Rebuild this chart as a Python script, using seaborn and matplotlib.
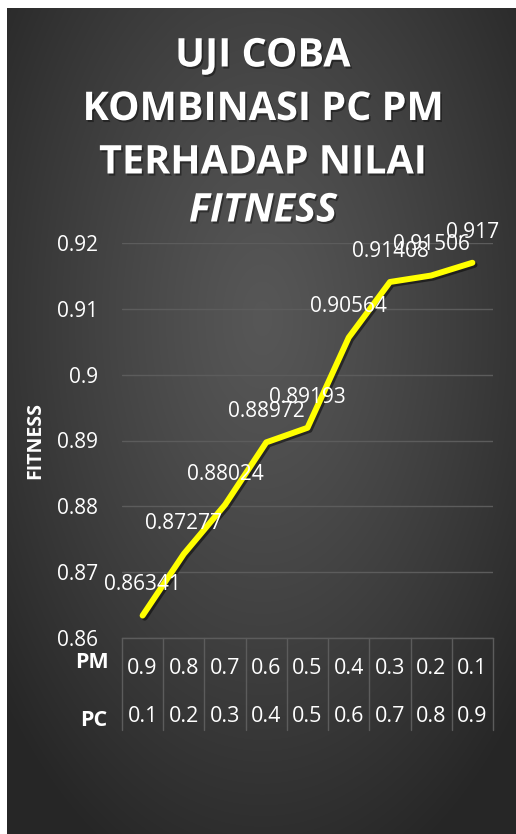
import numpy as np
import seaborn as sns
import matplotlib.pyplot as plt
import matplotlib.patheffects as pe
from matplotlib.transforms import blended_transform_factory

# data
pm_values = ["0.9", "0.8", "0.7", "0.6", "0.5", "0.4", "0.3", "0.2", "0.1"]
pc_values = ["0.1", "0.2", "0.3", "0.4", "0.5", "0.6", "0.7", "0.8", "0.9"]
fitness = [0.86341, 0.87277, 0.88024, 0.88972, 0.89193, 0.90564, 0.91408, 0.91506, 0.917]
y_ticks = [0.86, 0.87, 0.88, 0.89, 0.90, 0.91, 0.92]
title_lines = ["UJI COBA", "KOMBINASI PC PM", "TERHADAP NILAI"]

sns.set_theme(style="dark")
plt.rcParams['font.family'] = ['Open Sans', 'DejaVu Sans']

W, H = 516, 834
fig = plt.figure(figsize=(W / 100, H / 100), dpi=100, facecolor='white')

# dark radial gradient background
bg = fig.add_axes([7 / W, 0, (W - 7) / W, (H - 8) / H])
yy, xx = np.mgrid[0:H - 8, 0:W - 7]
r = np.sqrt(((xx - 255) / 340) ** 2 + ((yy - 310) / 600) ** 2)
g = 0.34 - 0.19 * np.clip(r, 0, 1) ** 1.2
bg.imshow(np.dstack([g, g, g]), aspect='auto', interpolation='bilinear')
bg.axis('off')

# main chart area
ax = fig.add_axes([122 / W, (H - 638) / H, 371 / W, 395 / H])
ax.patch.set_alpha(0)
grid_col = '#5c5c5c'

x = np.arange(len(fitness))
sns.lineplot(x=x, y=fitness, ax=ax, color='#FFFF00', linewidth=4.3,
             solid_capstyle='round', solid_joinstyle='round',
             path_effects=[pe.SimpleLineShadow(offset=(1.5, -1.5), shadow_color='black', alpha=0.5),
                           pe.Normal()])

for i, v in enumerate(fitness):
    ax.annotate(f"{v:g}", (i, v), xytext=(0, 22), textcoords='offset points',
                ha='center', va='center', color='white', fontsize=15,
                annotation_clip=False)

ax.set_xlim(-0.5, len(fitness) - 0.5)
ax.set_ylim(0.86, 0.92)
ax.set_yticks(y_ticks)
ax.set_yticklabels([f"{t:g}" for t in y_ticks], color='white', fontsize=15)
ax.set_xticks([])
ax.tick_params(axis='y', length=0, pad=17)
ax.grid(axis='y', color=grid_col, linewidth=1)
ax.grid(axis='x', visible=False)
for side in ['top', 'right', 'left']:
    ax.spines[side].set_visible(False)
ax.spines['bottom'].set_color(grid_col)
ax.spines['bottom'].set_linewidth(1)
ax.set_xlabel("")
ax.set_ylabel("")

# category table under the axis
trans = blended_transform_factory(ax.transData, ax.transAxes)
def frac(ypix):
    return (638 - ypix) / 395

for b in np.arange(-0.5, len(fitness)):
    ax.plot([b, b], [0, frac(730)], transform=trans, clip_on=False,
            color=grid_col, linewidth=1)
for i in range(len(fitness)):
    ax.text(i, frac(669), pm_values[i], transform=trans, ha='center', va='center',
            color='white', fontsize=15.5)
    ax.text(i, frac(717), pc_values[i], transform=trans, ha='center', va='center',
            color='white', fontsize=15.5)

fig.text(109 / W, 1 - 663 / H, "PM", ha='right', va='center', color='white',
         fontsize=15.5, fontweight='bold')
fig.text(107 / W, 1 - 720 / H, "PC", ha='right', va='center', color='white',
         fontsize=15.5, fontweight='bold')
fig.text(35 / W, 1 - 440 / H, "FITNESS", rotation=90, ha='center', va='center',
         color='white', fontsize=14, fontweight='bold')

# title
shadow = [pe.withSimplePatchShadow(offset=(1.2, -1.5), shadow_rgbFace='black', alpha=0.4)]
for k, line in enumerate(title_lines):
    fig.text(263 / W, 1 - (56 + 53.5 * k) / H, line, ha='center', va='center',
             color='white', fontsize=28.5, fontweight='bold', path_effects=shadow)
fig.text(263 / W, 1 - 211 / H, "FITNESS", ha='center', va='center', color='white',
         fontsize=28.5, fontweight='bold', fontstyle='italic', path_effects=shadow)

fig.savefig('out.png', dpi=100, facecolor='white')
